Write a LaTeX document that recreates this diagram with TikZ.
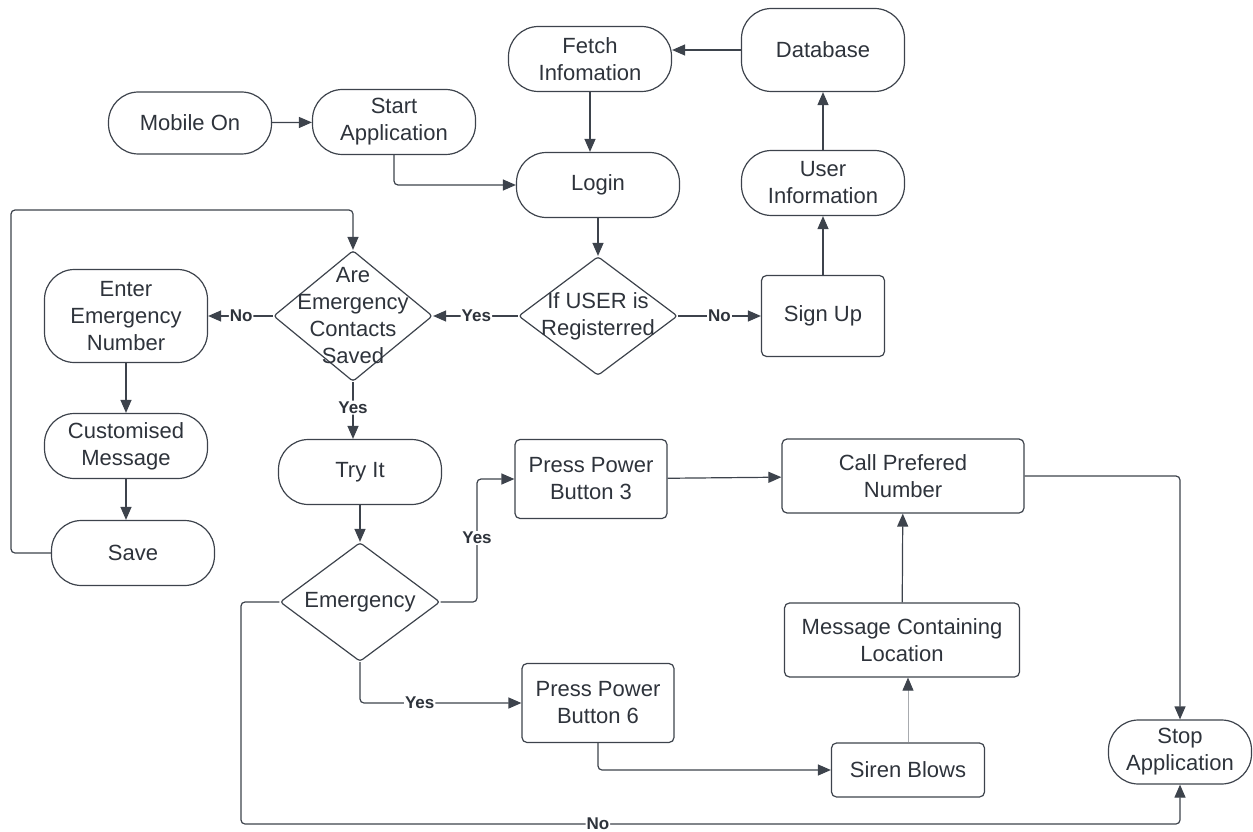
\documentclass[tikz,border=0pt]{standalone}
\usepackage{fontspec}
\setmainfont{Liberation Sans}
\usetikzlibrary{shapes.geometric,arrows.meta}
\definecolor{ln}{HTML}{3D434C}
\definecolor{txt}{HTML}{2E333B}
\definecolor{lite}{HTML}{A8ABAF}
\tikzset{
  every node/.style={text=txt, font=\fontsize{22}{27}\selectfont},
  term/.style={draw=ln, line width=1.2pt, rounded corners=30pt, align=center,
    minimum width=163pt, minimum height=65pt, inner sep=0pt},
  proc/.style={draw=ln, line width=1.2pt, rounded corners=5pt, align=center, inner sep=0pt},
  dec/.style={draw=ln, line width=1.2pt, diamond, rounded corners=3pt, inner sep=0pt,
    minimum width=159pt, minimum height=119pt},
  lbl/.style={fill=white, inner sep=1pt, font=\fontsize{17}{20}\selectfont\bfseries},
  flow/.style={draw=ln, line width=1.2pt, rounded corners=4pt,
    -{Triangle[length=13pt,width=11pt]}},
}
\begin{document}
\begin{tikzpicture}[x=1pt,y=-1pt]
  \useasboundingbox (0,0) rectangle (1253,832);
  \node[term, minimum height=62pt] (mob) at (190,123) {Mobile On};
  \node[term] (start) at (394,122) {Start\\Application};
  \node[term] (fetch) at (590,59) {Fetch\\Infomation};
  \node[term, minimum height=83pt] (db) at (823,50) {Database};
  \node[term] (login) at (598,185) {Login};
  \node[term] (uinfo) at (823,183) {User\\Information};
  \node[dec, label={[align=center]center:If USER is\\Registerred}] (ifu) at (598,316) {};
  \node[proc, minimum width=123pt, minimum height=81pt] (signup) at (823,316) {Sign Up};
  \node[dec, minimum height=131pt,
    label={[align=center]center:Are\\Emergency\\Contacts\\Saved}] (are) at (353,316) {};
  \node[term, minimum height=93pt] (enter) at (126,316) {Enter\\Emergency\\Number};
  \node[term] (cust) at (126,446) {Customised\\Message};
  \node[term] (save) at (133,553) {Save};
  \node[term] (tryit) at (360,472) {Try It};
  \node[dec, minimum width=160pt, label={center:Emergency}] (emg) at (360,602) {};
  \node[proc, minimum width=152pt, minimum height=79pt] (p3) at (591,479) {Press Power\\Button 3};
  \node[proc, minimum width=152pt, minimum height=79pt] (p6) at (598,703) {Press Power\\Button 6};
  \node[proc, minimum width=242pt, minimum height=74pt] (call) at (903,476) {Call Prefered\\Number};
  \node[proc, minimum width=235pt, minimum height=74pt] (msg) at (902,640) {Message Containing\\Location};
  \node[proc, minimum width=153pt, minimum height=54pt] (siren) at (908,770) {Siren Blows};
  \node[term, minimum width=143pt, minimum height=64pt] (stop) at (1180,752) {Stop\\Application};
  \coordinate (loopc) at (11,210);
  \coordinate (yesA) at (477,602);
  \coordinate (noA) at (241,824);

  \draw[flow] (mob) -- (start);
  \draw[flow] (start.south) |- (login.west);
  \draw[flow] (db.west) -- (db.west -| fetch.east);
  \draw[flow] (fetch.south) -- (fetch.south |- login.north);
  \draw[flow] (login) -- (ifu);
  \draw[flow] (ifu) -- node[lbl, pos=0.5]{No} (signup);
  \draw[flow] (signup) -- (uinfo);
  \draw[flow] (uinfo) -- (db);
  \draw[flow] (ifu) -- node[lbl, pos=0.49]{Yes} (are);
  \draw[flow] (are) -- node[lbl, pos=0.49]{No} (enter);
  \draw[flow] (enter) -- (cust);
  \draw[flow] (cust.south) -- (cust.south |- save.north);
  \draw[flow] (save.west) -| (loopc) -| (are.north);
  \draw[flow] (are.south) -- node[lbl, pos=0.45]{Yes} (are.south |- tryit.north);
  \draw[flow] (tryit) -- (emg);
  \draw[flow] (emg.east) -- (yesA) |- node[lbl, pos=0.26]{Yes} (p3.west);
  \draw[flow] (emg.south) |- node[lbl, pos=0.685]{Yes} (p6.west);
  \draw[flow] (emg.west) -| (noA) -| node[lbl, pos=0.19]{No} (stop.south);
  \draw[flow] (p3) -- (call);
  \draw[flow] (call.east) -| (stop.north);
  \draw[flow] (msg) -- (call);
  \draw[draw=lite, line width=0.8pt, -{Triangle[length=13pt,width=11pt,color=ln]}]
    (siren.north) -- (siren.north |- msg.south);
  \draw[flow] (p6.south) |- (siren.west);
\end{tikzpicture}
\end{document}
